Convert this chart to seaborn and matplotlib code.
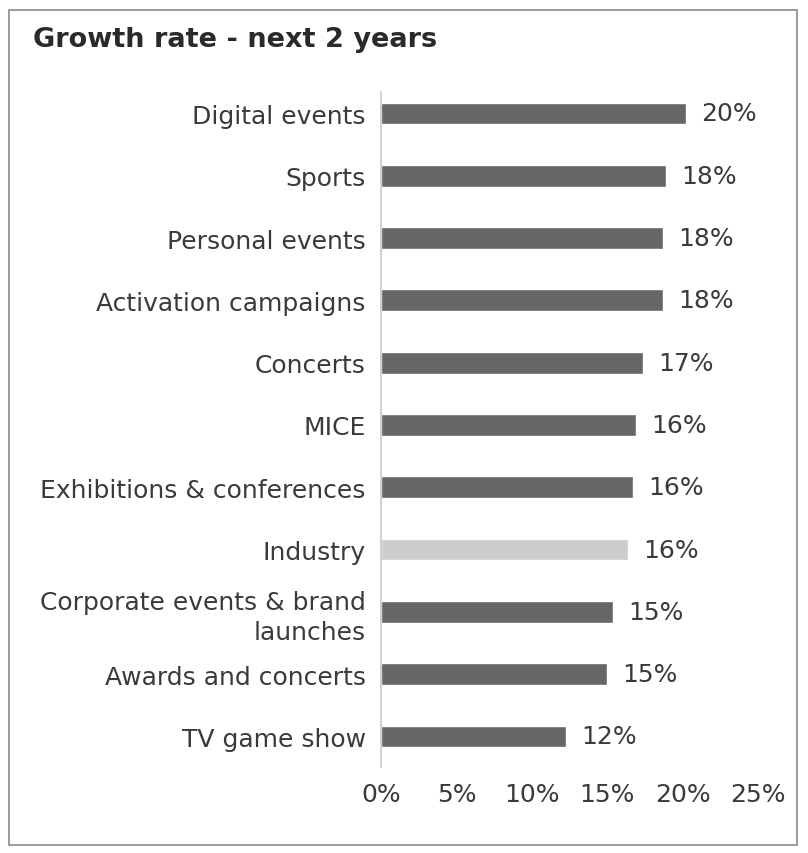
import numpy as np
import pandas as pd
import seaborn as sns
import matplotlib.pyplot as plt
from matplotlib.patches import Rectangle

# Data
categories = ['Digital events', 'Sports', 'Personal events', 'Activation campaigns',
              'Concerts', 'MICE', 'Exhibitions & conferences', 'Industry',
              'Corporate events & brand\nlaunches', 'Awards and concerts', 'TV game show']
growth = [20.2, 18.9, 18.7, 18.7, 17.4, 16.9, 16.7, 16.4, 15.4, 15.0, 12.3]
value_labels = ['20%', '18%', '18%', '18%', '17%', '16%', '16%', '16%', '15%', '15%', '12%']
x_ticks = [0, 5, 10, 15, 20, 25]
x_ticklabels = ['0%', '5%', '10%', '15%', '20%', '25%']

df = pd.DataFrame({'Category': categories, 'Growth': growth})
colors = {c: ('#cccccc' if c == 'Industry' else '#666666') for c in categories}

sns.set_style("white")
plt.rcParams['font.family'] = ['DejaVu Sans']
text_col = '#3a3a3a'
fs = 18

fig = plt.figure(figsize=(8.08, 8.54), dpi=100)
ax = fig.add_axes([381 / 808, 1 - 768 / 854, (758 - 381) / 808, (768 - 93) / 854])

sns.barplot(data=df, y='Category', x='Growth', hue='Category', palette=colors,
            orient='h', width=0.35, legend=False, ax=ax, saturation=1)

ax.set_xlim(0, 25)
ax.set_ylim(10.49, -0.345)
ax.set_xticks(x_ticks)
ax.set_xticklabels(x_ticklabels)
ax.set_xlabel('')
ax.set_ylabel('')
ax.tick_params(axis='x', length=0, pad=11, labelsize=fs, labelcolor=text_col)
ax.tick_params(axis='y', length=0, pad=11, labelsize=fs, labelcolor=text_col)
for lab in ax.get_yticklabels():
    lab.set_linespacing(1.3)

for s in ['top', 'right', 'bottom']:
    ax.spines[s].set_visible(False)
ax.spines['left'].set_color('#c8c8c8')
ax.spines['left'].set_linewidth(1.2)

for i, (v, lab) in enumerate(zip(growth, value_labels)):
    ax.text(v + 1.0, i, lab, va='center', ha='left', fontsize=fs, color=text_col)

fig.text(33 / 808, 1 - 40 / 854, 'Growth rate - next 2 years', fontsize=19.5,
         fontweight='bold', color='#2a2a2a', va='center', ha='left')

fig.patches.append(Rectangle((9 / 808, 1 - 846 / 854), (797 - 9) / 808, (846 - 11) / 854,
                             transform=fig.transFigure, fill=False,
                             edgecolor='#8a8a8a', linewidth=1.2))

fig.savefig('out.png', dpi=100)
